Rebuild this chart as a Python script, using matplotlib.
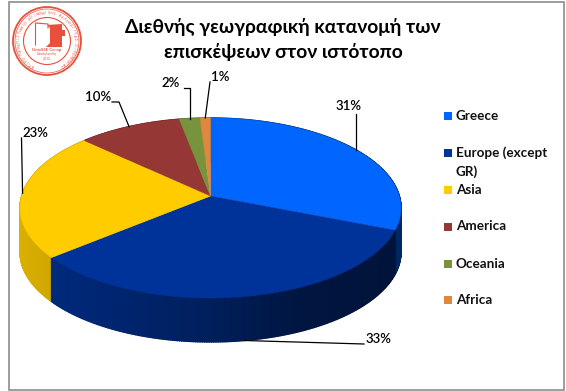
import numpy as np
import matplotlib
matplotlib.use("Agg")
import matplotlib.pyplot as plt
from matplotlib.collections import PolyCollection
from matplotlib.patches import Polygon, Rectangle, Circle
from matplotlib.colors import to_rgb

categories = ["Greece", "Europe (except\nGR)", "Asia", "America", "Oceania", "Africa"]
values = [31, 33, 23, 10, 2, 1]
colors = ["#0066FF", "#003399", "#FFCC00", "#953735", "#77933C", "#E0873F"]
title = "Διεθνής γεωγραφική κατανομή των\nεπισκέψεων στον ιστότοπο"

# layout
CX, CY = 210.5, 196.0
A, B, K = 88.4, 188.8, 0.133
DEPTH = 44.0
FONT = ["Lato", "Noto Sans", "DejaVu Sans"]

label_pos = [(349, 106), (378, 339), (35, 133), (98, 97), (171, 83), (220, 77)]
elbow_pos = [(355, 114), (364, 344), (21.5, 138), (112, 102), (184, 88), (210, 82)]
use_depth = [False, True, False, False, False, False]
legend_y = [116, 153, 190, 227, 264, 300]

fig = plt.figure(figsize=(5.66, 3.91), dpi=100)
ax = fig.add_axes([0, 0, 1, 1])
ax.set_xlim(0, 566)
ax.set_ylim(391, 0)
ax.axis("off")


def project(t):
    """Clockwise angle from 12 o'clock on the disc -> picture coordinates."""
    u, v = np.sin(t), np.cos(t)
    d = 1 + K * v
    return CX + B * u / d, CY - A * v / d


ax.add_patch(Rectangle((8.5, 1.5), 555, 388, fc="white", ec="#8c8c8c", lw=1.2))

fracs = np.array(values, float) / sum(values)
edges = np.concatenate([[0], np.cumsum(fracs)]) * 2 * np.pi

# side wall
quads, qcol, qkey = [], [], []
for i, col in enumerate(colors):
    ts = np.linspace(edges[i], edges[i + 1], max(3, int(values[i] * 6)))
    xs, ys = project(ts)
    rgb = np.array(to_rgb(col))
    for j in range(len(ts) - 1):
        xm = (xs[j] + xs[j + 1]) / 2
        shade = np.interp(xm, [20, 210, 300, 400], [0.86, 0.60, 0.42, 0.38])
        quads.append([(xs[j], ys[j]), (xs[j + 1], ys[j + 1]),
                      (xs[j + 1], ys[j + 1] + DEPTH), (xs[j], ys[j] + DEPTH)])
        qcol.append(rgb * shade)
        qkey.append((ys[j] + ys[j + 1]) / 2)
order = np.argsort(qkey)
pc = PolyCollection([quads[o] for o in order],
                    facecolors=[qcol[o] for o in order],
                    edgecolors=[qcol[o] for o in order], linewidths=1.0, zorder=2)
ax.add_collection(pc)

# top face
cen = (CX, CY)
for i, col in enumerate(colors):
    ts = np.linspace(edges[i], edges[i + 1], max(3, int(values[i] * 6)))
    xs, ys = project(ts)
    ax.add_patch(Polygon([cen] + list(zip(xs, ys)), closed=True, fc=col, ec=col, lw=0.3, zorder=3))

# data labels and leaders
for i, v in enumerate(values):
    mid = (edges[i] + edges[i + 1]) / 2
    x, y = project(mid)
    if use_depth[i]:
        y = y + DEPTH
    ex, ey = elbow_pos[i]
    if i == 0:
        pts = [(x, y), (x, ey)]
    elif i == 3:
        pts = [(x, y), (ex + 7, ey), (ex, ey)]
    elif i == 4:
        pts = [(x, y), (x, ey), (ex, ey)]
    else:
        pts = [(x, y), (ex, ey)]
    ax.plot(*zip(*pts), color="black", lw=0.9, zorder=4)
    ax.text(*label_pos[i], f"{v}%", ha="center", va="center", fontsize=9.5,
            family=FONT, color="black", fontweight="semibold", zorder=5)

# legend
for lab, col, y in zip(categories, colors, legend_y):
    ax.add_patch(Rectangle((444, y - 4), 8, 8, fc=col, ec="none", zorder=4))
    ax.text(456, y - 6.5, lab, ha="left", va="top", fontsize=9.7, family=FONT,
            fontweight="bold", color="#111111", linespacing=1.55, zorder=5)

# title
ax.text(283, 39.5, title, ha="center", va="center", fontsize=13.9, family=FONT,
        fontweight="bold", color="black", linespacing=1.42, zorder=5)

# logo
RED = "#E8503A"
lx, ly = 47, 41
for r, w in [(34, 1.3), (32, 0.5), (23.5, 0.8)]:
    ax.add_patch(Circle((lx, ly), r, fc="none", ec=RED, lw=w, zorder=4))
ax.add_patch(Polygon([(47, 25), (62, 24), (62, 30), (65, 30), (65, 36), (62, 36), (62, 47),
                      (46, 47), (50, 43), (50, 28)], closed=True, fc=RED, ec="none", zorder=4))
ax.plot([35.5, 35.5, 48, 48], [45, 23, 24, 28], color=RED, lw=0.8, zorder=4)
ax.text(lx, 50, "UnivSSE Co-op", ha="center", va="center", fontsize=3.2, color=RED,
        family=FONT, fontweight="bold", zorder=5)
ax.text(lx, 54.5, "Θεσσαλονίκη", ha="center", va="center", fontsize=2.4, color=RED,
        family=FONT, zorder=5)
ax.text(lx, 58.5, "2013", ha="center", va="center", fontsize=2.4, color=RED, family=FONT, zorder=5)
ring = "ΑΛΙΚΟ ΠΑΝΕΠΙΣΤΗΜΙΟ ΚΟΙΝΩΝΙΚΗΣ ΑΛΛΗΛΕΓΓΥΑΣ ΟΙΚΟΝΟΜΙΑΣ"
angs = np.linspace(-150, 150, len(ring))
for ch, a in zip(ring, angs):
    ra = np.deg2rad(a)
    ax.text(lx + 28 * np.sin(ra), ly - 28 * np.cos(ra), ch, fontsize=2.6, color=RED,
            family=FONT, rotation=-a, rotation_mode="anchor", ha="center", va="center", zorder=5)

fig.savefig("out.png", dpi=100, facecolor="white")
